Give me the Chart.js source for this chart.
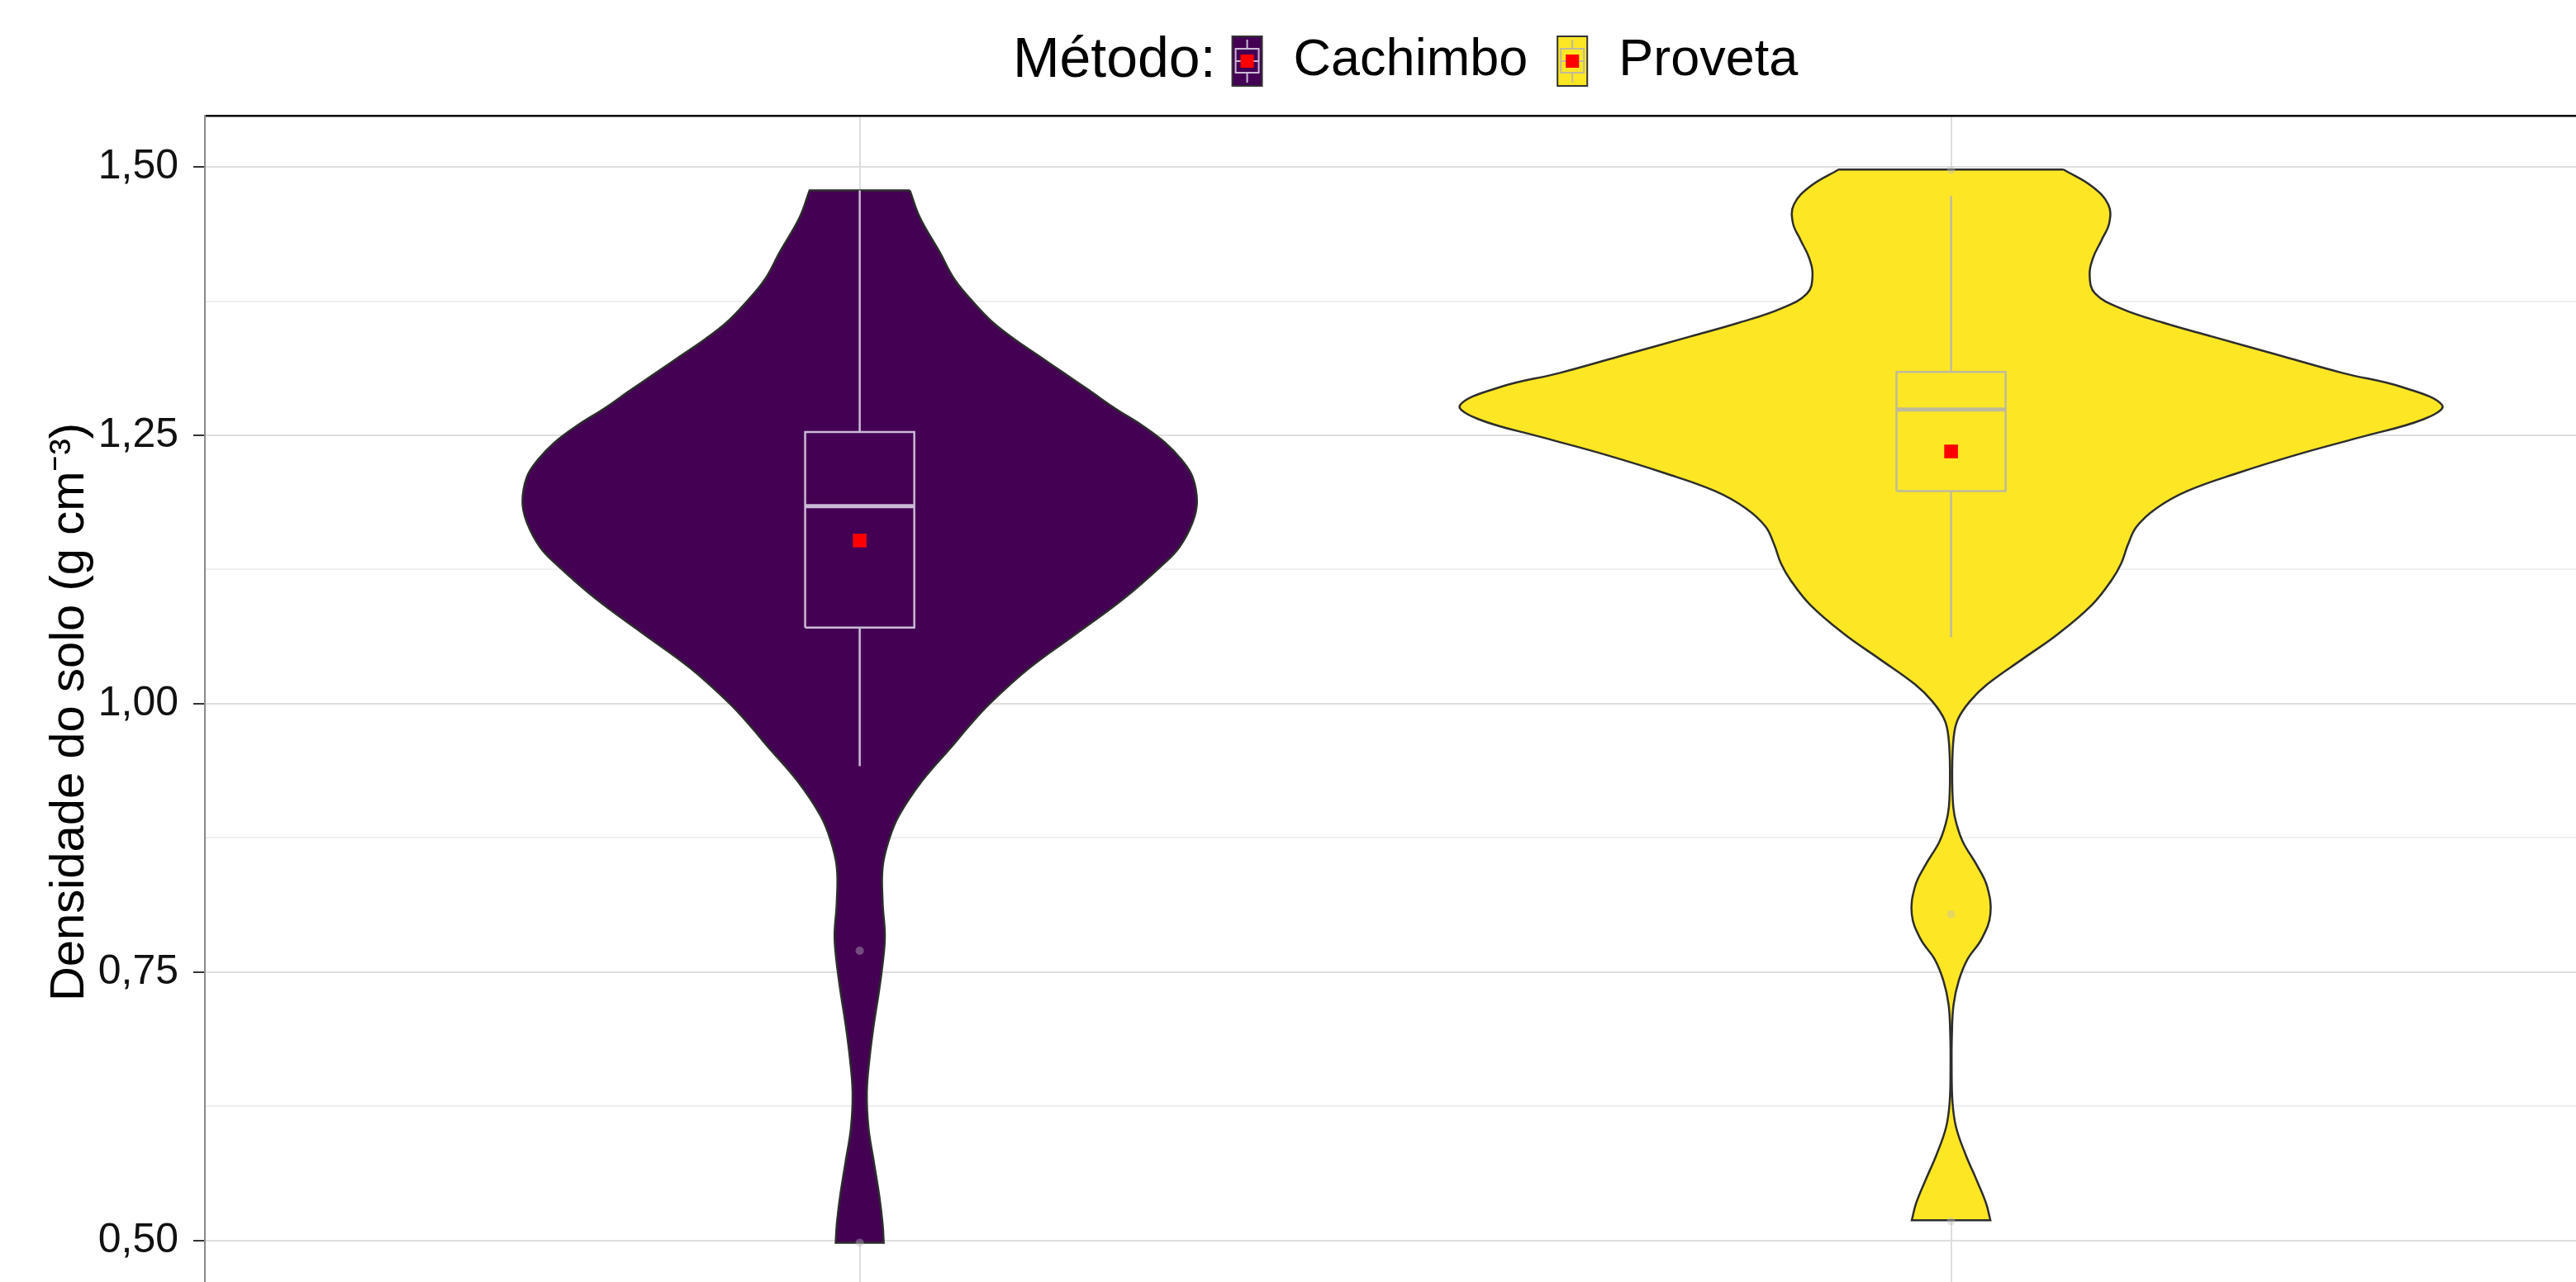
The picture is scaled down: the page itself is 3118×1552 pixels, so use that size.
<!DOCTYPE html>
<html>
<head>
<meta charset="utf-8">
<title>Densidade do solo por método</title>
<script src="https://cdn.jsdelivr.net/npm/chart.js@4.4.1/dist/chart.umd.min.js"></script>
<style>
  html, body { margin: 0; padding: 0; background: #fff; overflow: hidden; }
</style>
</head>
<body>
<!-- the original panel runs past the bottom edge of the picture, so the canvas does too -->
<canvas id="myChart" width="3118" height="1584"></canvas>
<script>
// Categories (drawn at x = 1 and x = 2)
let methods = ['Cachimbo', 'Proveta'];

// Boxplot summaries
let q1 = [1.071, 1.198];
let median = [1.184, 1.274];
let q3 = [1.253, 1.309];
let whiskerLow = [0.942, 1.062];
let whiskerHigh = [1.478, 1.473];
let means = [1.152, 1.235];
let outliers = [[0.770, 0.498], [1.497, 0.804, 0.518]];

// Violin outlines: density level (g cm-3) and half width (in category units)
let cachimboLevels = [1.478, 1.453, 1.421, 1.395, 1.374, 1.356, 1.340, 1.324, 1.308, 1.292, 1.275, 1.259,
  1.243, 1.227, 1.211, 1.188, 1.169, 1.146, 1.130, 1.098, 1.065, 1.033, 1.001, 0.978, 0.961, 0.928,
  0.896, 0.874, 0.848, 0.815, 0.786, 0.767, 0.735, 0.702, 0.670, 0.638, 0.605, 0.573, 0.541, 0.515, 0.498];
let cachimboHalf = [0.046, 0.055, 0.073, 0.087, 0.104, 0.121, 0.141, 0.164, 0.187, 0.210, 0.234, 0.259,
  0.280, 0.295, 0.305, 0.309, 0.305, 0.293, 0.278, 0.242, 0.198, 0.155, 0.120, 0.099, 0.085, 0.057,
  0.036, 0.027, 0.021, 0.021, 0.023, 0.022, 0.018, 0.013, 0.009, 0.0065, 0.008, 0.013, 0.018, 0.021, 0.022];

let provetaLevels = [1.4975, 1.482, 1.465, 1.448, 1.432, 1.415, 1.398, 1.382, 1.368, 1.355, 1.342, 1.325,
  1.308, 1.295, 1.278, 1.265, 1.248, 1.232, 1.215, 1.198, 1.182, 1.165, 1.148, 1.131, 1.115, 1.092,
  1.065, 1.042, 1.018, 1.002, 0.985, 0.968, 0.936, 0.904, 0.888, 0.871, 0.849, 0.830, 0.804, 0.781,
  0.762, 0.742, 0.720, 0.694, 0.662, 0.629, 0.606, 0.581, 0.555, 0.535, 0.519];
let provetaHalf = [0.103, 0.129, 0.144, 0.145, 0.138, 0.130, 0.127, 0.132, 0.156, 0.194, 0.239, 0.299,
  0.359, 0.413, 0.450, 0.433, 0.374, 0.317, 0.263, 0.216, 0.188, 0.170, 0.162, 0.156, 0.147, 0.129,
  0.098, 0.066, 0.033, 0.017, 0.006, 0.0023, 0.001, 0.002, 0.005, 0.011, 0.024, 0.033, 0.036, 0.028,
  0.015, 0.007, 0.0023, 0.0008, 0.0005, 0.0013, 0.0045, 0.013, 0.024, 0.032, 0.036];

// Y axis ticks (majors every 0,25 carry labels, the others are minor grid lines)
let yTicks = [0.5, 0.625, 0.75, 0.875, 1.0, 1.125, 1.25, 1.375, 1.5];

// styles
const fontFamily = '"Liberation Sans", Arial, Helvetica, sans-serif';
const fills = ['#440154', '#FDE725'];
const boxLines = ['#CBBBD6', '#C0BA9C'];
const boxWidth = 0.1;

const isMajor = v => Math.abs(v * 4 - Math.round(v * 4)) < 1e-6;

// polygon going down the right side and back up the left side;
// the four corner points are repeated so the smoothing keeps the flat ends flat
function violinPoints(i, levels, half) {
  const c = i + 1;
  const right = levels.map((y, k) => ({x: c + half[k], y: y}));
  const left = levels.map((y, k) => ({x: c - half[k], y: y})).reverse();
  return right.concat([right[right.length - 1], left[0]], left, [left[left.length - 1], right[0]]);
}

function boxPoints(i) {
  const c = i + 1, h = boxWidth / 2;
  return [{x: c - h, y: q1[i]}, {x: c + h, y: q1[i]}, {x: c + h, y: q3[i]},
          {x: c - h, y: q3[i]}, {x: c - h, y: q1[i]}];
}

let datasets = [];
let violinData = [violinPoints(0, cachimboLevels, cachimboHalf), violinPoints(1, provetaLevels, provetaHalf)];

methods.forEach((m, i) => {
  const c = i + 1;
  datasets.push({
    label: m, data: violinData[i], showLine: true, fill: 'shape',
    backgroundColor: fills[i], borderColor: '#2d2d2d', borderWidth: 2.5,
    pointRadius: 0, tension: 0.4, order: 6
  });
  datasets.push({
    data: boxPoints(i), showLine: true, fill: false,
    borderColor: boxLines[i], borderWidth: 2.5, pointRadius: 0, tension: 0, order: 5
  });
  datasets.push({
    data: [{x: c, y: q3[i]}, {x: c, y: whiskerHigh[i]}], showLine: true,
    borderColor: boxLines[i], borderWidth: 2.5, pointRadius: 0, order: 5
  });
  datasets.push({
    data: [{x: c, y: q1[i]}, {x: c, y: whiskerLow[i]}], showLine: true,
    borderColor: boxLines[i], borderWidth: 2.5, pointRadius: 0, order: 5
  });
  datasets.push({
    data: [{x: c - boxWidth / 2, y: median[i]}, {x: c + boxWidth / 2, y: median[i]}], showLine: true,
    borderColor: boxLines[i], borderWidth: 5, pointRadius: 0, order: 4
  });
  datasets.push({
    data: outliers[i].map(v => ({x: c, y: v})),
    pointRadius: 5, backgroundColor: 'rgba(190,190,190,0.4)', borderWidth: 0, order: 3
  });
});

datasets.push({
  label: 'Média',
  data: means.map((v, i) => ({x: i + 1, y: v})),
  pointStyle: 'rect', pointRadius: 11.7, backgroundColor: '#FF0000', borderWidth: 0, order: 1
});

// legend drawn in one row: "Método:" then a key and label per category
function drawKey(ctx, x, y, w, h, i) {
  const cx = x + w / 2;
  ctx.fillStyle = fills[i];
  ctx.fillRect(x, y, w, h);
  ctx.strokeStyle = '#333';
  ctx.lineWidth = 2;
  ctx.strokeRect(x, y, w, h);
  ctx.strokeStyle = boxLines[i];
  ctx.lineWidth = 2;
  ctx.strokeRect(x + 4, y + 15, w - 8, h - 31);
  ctx.beginPath();
  ctx.moveTo(cx, y + 4); ctx.lineTo(cx, y + 15);
  ctx.moveTo(cx, y + h - 16); ctx.lineTo(cx, y + h - 4);
  ctx.moveTo(x + 4, y + h / 2); ctx.lineTo(x + w - 4, y + h / 2);
  ctx.stroke();
  ctx.fillStyle = '#FF0000';
  ctx.fillRect(cx - 8, y + h / 2 - 8, 16, 16);
}

const legendRow = {
  id: 'legendRow',
  afterDraw(chart) {
    const ctx = chart.ctx;
    const cy = 74;
    const keyW = 36, keyH = 60, gapTitle = 20, gapText = 38, gapItem = 36;
    const titleFont = '68px ' + fontFamily, labelFont = '63px ' + fontFamily;
    ctx.save();
    ctx.textBaseline = 'middle';
    ctx.font = titleFont;
    const titleW = ctx.measureText('Método:').width;
    ctx.font = labelFont;
    const labelW = methods.map(m => ctx.measureText(m).width);
    let total = titleW + gapTitle;
    labelW.forEach((w, i) => { total += keyW + gapText + w + (i < labelW.length - 1 ? gapItem : 0); });
    let left = chart.scales.x.getPixelForValue(1.5) - total / 2;
    ctx.fillStyle = '#000';
    ctx.font = titleFont;
    ctx.fillText('Método:', left, cy);
    left += titleW + gapTitle;
    ctx.font = labelFont;
    methods.forEach((m, i) => {
      drawKey(ctx, left, cy - keyH / 2, keyW, keyH, i);
      left += keyW + gapText;
      ctx.fillStyle = '#000';
      ctx.fillText(m, left, cy);
      left += labelW[i] + gapItem;
    });
    ctx.restore();
  }
};

let ctx = document.getElementById('myChart').getContext('2d');
let myChart = new Chart(ctx, {
  type: 'scatter',
  data: { datasets: datasets },
  plugins: [legendRow],
  options: {
    responsive: false,
    animation: false,
    devicePixelRatio: 1,
    layout: { autoPadding: false, padding: { top: 140, left: 0, right: 0, bottom: 0 } },
    plugins: { legend: { display: false }, tooltip: { enabled: false } },
    scales: {
      x: {
        type: 'linear', position: 'top', min: 0.4, max: 2.5726,
        afterBuildTicks: axis => { axis.ticks = methods.map((m, i) => ({value: i + 1})); },
        ticks: { display: false },
        grid: { color: '#DEDEDE', lineWidth: 2, drawTicks: false },
        border: { display: true, color: '#000', width: 2.5 }
      },
      y: {
        type: 'linear', min: 0.4369, max: 1.5477,
        afterBuildTicks: axis => { axis.ticks = yTicks.map(v => ({value: v})); },
        afterFit: axis => { axis.width = 248; axis.paddingTop = 0; axis.paddingBottom = 0; },
        ticks: {
          callback: v => isMajor(v) ? v.toFixed(2).replace('.', ',') : '',
          font: { size: 50, family: fontFamily }, color: '#111', padding: 18, autoSkip: false
        },
        grid: {
          color: c => isMajor(c.tick.value) ? '#DEDEDE' : '#EFEFEF',
          lineWidth: 2, tickLength: 14, tickWidth: 2,
          tickColor: c => isMajor(c.tick.value) ? '#333' : 'rgba(0,0,0,0)'
        },
        border: { display: true, color: '#8a8a8a', width: 2 },
        title: {
          display: true, text: 'Densidade do solo (g cm⁻³)',
          font: { size: 58, family: fontFamily }, color: '#000', padding: { top: 50 }
        }
      }
    }
  }
});
</script>
</body>
</html>
